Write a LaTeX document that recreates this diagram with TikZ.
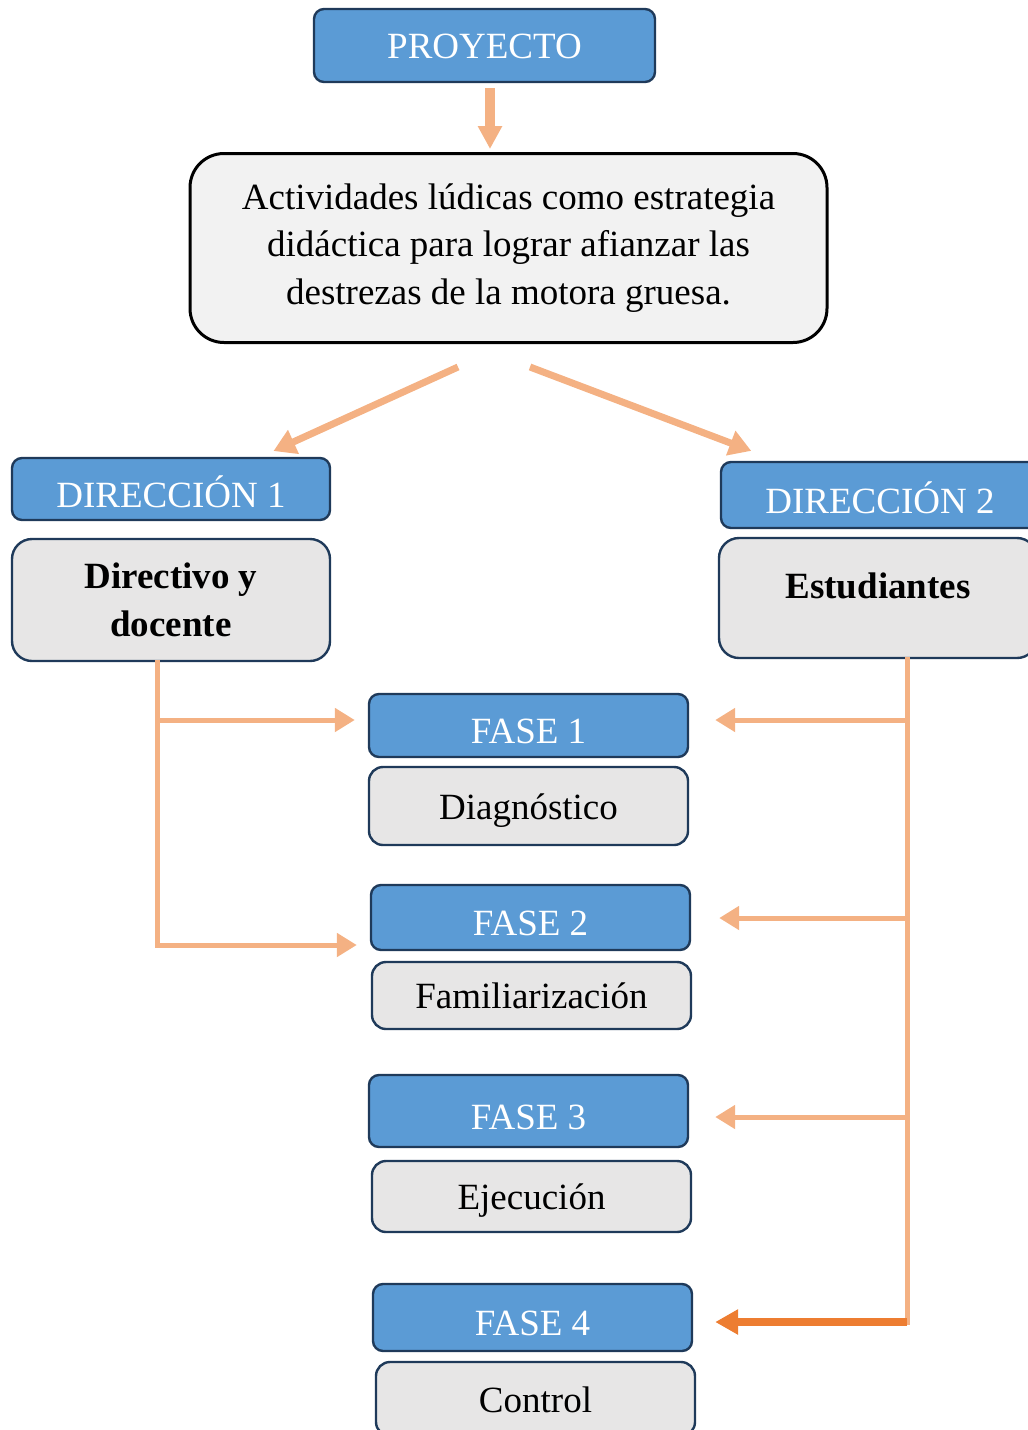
\documentclass[tikz,border=0pt]{standalone}
\usepackage{fontspec}
\setmainfont{Liberation Serif}
\usetikzlibrary{arrows.meta,calc}
\definecolor{boxblue}{HTML}{5B9BD5}
\definecolor{boxedge}{HTML}{1F3A5A}
\definecolor{boxgray}{HTML}{E7E6E6}
\definecolor{boxlight}{HTML}{F2F2F2}
\definecolor{arrlight}{HTML}{F4B183}
\definecolor{arrdark}{HTML}{ED7D31}

\begin{document}
\begin{tikzpicture}[
  x=0.5pt, y=-0.5pt,
  every node/.style={font=\fontsize{18.5}{23.75}\selectfont, inner sep=0pt},
  hdr/.style={draw=boxedge, line width=1.2pt, fill=boxblue, text=white, rounded corners=5pt, minimum width=159pt, text height=18pt, text depth=0pt},
  cell/.style={draw=boxedge, line width=1.2pt, fill=boxgray, minimum width=159pt},
  tag/.style={cell, rounded corners=7pt, text height=13pt, text depth=0pt},
  trunk/.style={draw=arrlight, line width=2.5pt, line cap=rect},
  branch/.style={-{Triangle[length=10pt,width=11.5pt]}, draw=arrlight, line width=2.5pt, shorten >=13pt},
  split/.style={-{Triangle[length=11pt,width=12.5pt]}, draw=arrlight, line width=3.5pt},
  drop/.style={-{Triangle[length=11.5pt,width=11.5pt]}, draw=arrlight, line width=4.7pt},
]
\useasboundingbox (0,0) rectangle (1028,1430);

\node[hdr, minimum width=170.5pt, minimum height=36.5pt, text height=12.5pt] (proy) at (484.5,45.5) {PROYECTO};
\node[draw=black, line width=1.5pt, fill=boxlight, rounded corners=17pt, minimum width=318.5pt, minimum height=94.5pt, align=center] (main) at (508.5,248)
  {Actividades lúdicas como estrategia\\ didáctica para lograr afianzar las\\ destrezas de la motora gruesa.};

\node[hdr, minimum height=31pt] (dir1) at (171,489) {DIRECCIÓN 1};
\node[cell, rounded corners=10pt, minimum height=61pt, align=center, font=\fontsize{18.5}{24}\selectfont\bfseries] (dirdoc) at (171,600) {Directivo y\\ docente};
\node[hdr, minimum height=33pt] (dir2) at (880,495) {DIRECCIÓN 2};
\node[cell, rounded corners=10pt, minimum height=60pt, text height=12pt, text depth=12pt, font=\fontsize{18.5}{24}\selectfont\bfseries] (estud) at (878,598) {Estudiantes};

\node[hdr, minimum width=159.5pt, minimum height=31.5pt] (fase1) at (528.5,725.5) {FASE 1};
\node[tag, minimum width=159.5pt, minimum height=39pt] (diag) at (528.5,806) {Diagnóstico};
\node[hdr, minimum width=159.5pt, minimum height=32.5pt] (fase2) at (530.5,917.5) {FASE 2};
\node[tag, minimum width=159.5pt, minimum height=33.5pt] (fam) at (531.5,995.5) {Familiarización};
\node[hdr, minimum width=159.5pt, minimum height=36pt] (fase3) at (528.5,1111) {FASE 3};
\node[tag, minimum width=159.5pt, minimum height=35.5pt] (ejec) at (531.5,1196.5) {Ejecución};
\node[hdr, minimum width=159.5pt, minimum height=33.5pt] (fase4) at (532.5,1317.5) {FASE 4};
\node[tag, minimum width=159.5pt, minimum height=37pt] (ctrl) at (535.5,1399) {Control};

\coordinate (ta) at (490,88);
\coordinate (sl) at (458,367);
\coordinate (sr) at (530,367);
\coordinate (l1) at (157,720);
\coordinate (l2) at (157,945);
\coordinate (r1) at (907,720);
\coordinate (r2) at (907,918);
\coordinate (r3) at (907,1117);
\coordinate (r4) at (907,1322);

\draw[drop, shorten >=1.5pt] (ta) -- (ta |- main.north);
\draw[split, shorten >=7pt] (sl) -- ($(dir1.north west)!0.78!(dir1.north east)$);
\draw[split, shorten >=14pt] (sr) -- ($(dir2.north west)!0.18!(dir2.north east)$);

\draw[trunk] (dirdoc.south -| l1) -- (l2);
\draw[branch, shorten >=6.5pt] (l1) -- (fase1.west |- l1);
\draw[branch, shorten >=6.5pt] (l2) -- (fase2.west |- l2);

\draw[trunk] (estud.south -| r1) -- (r4);
\draw[branch] (r1) -- (fase1.east |- r1);
\draw[branch, shorten >=14pt] (r2) -- (fase2.east |- r2);
\draw[branch] (r3) -- (fase3.east |- r3);
\draw[branch, draw=arrdark, line width=4pt, -{Triangle[length=11.5pt,width=12pt]}, shorten >=11pt] (r4) -- (fase4.east |- r4);
\end{tikzpicture}
\end{document}
